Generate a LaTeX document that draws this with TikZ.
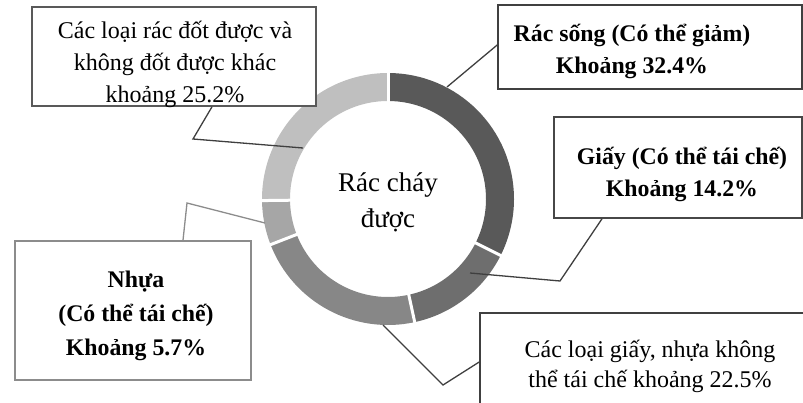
\documentclass[tikz,border=0pt]{standalone}
\usepackage{fontspec}
\setmainfont{Liberation Serif}
\definecolor{segA}{HTML}{595959}
\definecolor{segB}{HTML}{6E6E6E}
\definecolor{segC}{HTML}{878787}
\definecolor{segD}{HTML}{A6A6A6}
\definecolor{segE}{HTML}{BFBFBF}
\definecolor{leader}{HTML}{3F3F3F}
\begin{document}
\begin{tikzpicture}[x=1pt,y=-1pt,
  box/.style={draw=#1, line width=1.6pt, rectangle, inner sep=0pt, fill=white},
  lbl/.style={align=center, font=\fontsize{24}{32}\selectfont, inner sep=0pt},
  blbl/.style={align=center, font=\fontsize{23.8}{32}\selectfont\bfseries, inner sep=0pt},
  ctr/.style={align=center, font=\fontsize{27}{36}\selectfont, inner sep=0pt},
  lead/.style={draw=#1, line width=1.3pt},
  lead/.default=leader]
\useasboundingbox (0,0) rectangle (803,403);
\begin{scope}
\clip (0,0) rectangle (803,403);
% ring
\coordinate (C) at (388,199);
\foreach \a/\b/\c in {90/-26.64/segA,-26.64/-77.76/segB,-77.76/-158.76/segC,-158.76/-179.28/segD,-179.28/-270/segE}{
  \draw[\c, line width=28pt] (C) ++(\a:112pt) arc[start angle=\a, end angle=\b, radius=112pt];
}
\foreach \a in {90,-26.64,-77.76,-158.76,-179.28}{
  \draw[white, line width=3pt] (C) ++(\a:94pt) -- ++(\a:36pt);
}
\node[ctr] (tc) at (388,202) {Rác cháy\\được};
% boxes
\node[box=black!65, minimum width=284pt, minimum height=99pt] (b1) at (174,56.5) {};
\node[lbl] (t1) at (175,64) {Các loại rác đốt được và\\không đốt được khác\\khoảng 25.2\%};
\node[box=black!75, minimum width=304pt, minimum height=84pt] (b2) at (650,47) {};
\node[blbl] (t2) at (632,51) {Rác sống (Có thể giảm)\\Khoảng 32.4\%};
\node[box=black!72, minimum width=248pt, minimum height=101pt] (b3) at (678,167.5) {};
\node[blbl] (t3) at (682,174) {Giấy (Có thể tái chế)\\Khoảng 14.2\%};
\node[box=black!45, minimum width=236pt, minimum height=139pt] (b4) at (133,310.5) {};
\node[blbl, font=\fontsize{23.8}{34}\selectfont\bfseries] (t4) at (136,316) {Nhựa\\(Có thể tái chế)\\Khoảng 5.7\%};
\node[box=black!75, minimum width=350pt, minimum height=98pt] (b5) at (655,362) {};
\node[lbl, font=\fontsize{24}{30}\selectfont] (t5) at (650,366) {Các loại giấy, nhựa không\\thể tái chế khoảng 22.5\%};
% leaders
\coordinate (r1) at (303,148);
\coordinate (k1) at (193,139);
\draw[lead] ([xshift=38pt]b1.south) -- (k1) -- (r1);
\coordinate (r2) at (447,87);
\draw[lead] (r2) -- ([yshift=2pt]b2.west);
\coordinate (r3) at (470,273);
\coordinate (k3) at (560,281);
\draw[lead] (r3) -- (k3) -- ([xshift=-76pt]b3.south);
\coordinate (r4) at (265,223);
\coordinate (k4) at (187,203);
\draw[lead=black!45] (r4) -- (k4) -- ([xshift=50pt]b4.north);
\coordinate (r5) at (383,325);
\coordinate (k5) at (443,385);
\draw[lead] (r5) -- (k5) -- (b5.west);
\end{scope}
\end{tikzpicture}
\end{document}
